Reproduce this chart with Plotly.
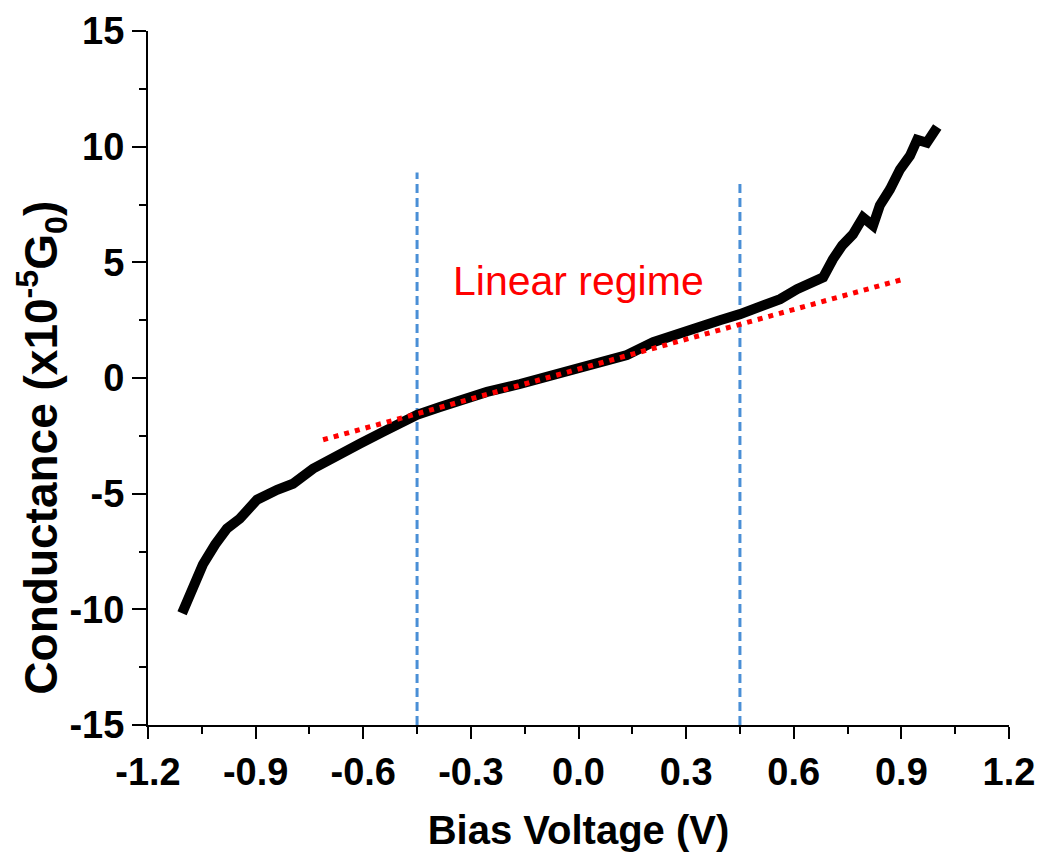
import plotly.graph_objects as go

# ---- data ----
bias_v = [-1.105, -1.091, -1.075, -1.047, -1.013, -0.980, -0.944, -0.896, -0.840,
          -0.796, -0.740, -0.684, -0.609, -0.545, -0.478, -0.450, -0.386, -0.330,
          -0.255, -0.163, -0.088, -0.015, 0.060, 0.135, 0.208, 0.302, 0.394, 0.450,
          0.506, 0.562, 0.609, 0.637, 0.682, 0.709, 0.735, 0.765, 0.793, 0.821,
          0.840, 0.868, 0.896, 0.924, 0.944, 0.971, 0.994, 1.000]
conductance = [-10.17, -9.66, -8.92, -8.06, -7.20, -6.51, -6.08, -5.26, -4.83,
               -4.57, -3.92, -3.41, -2.84, -2.33, -1.81, -1.59, -1.25, -0.95,
               -0.60, -0.26, 0.04, 0.39, 0.69, 0.99, 1.55, 2.07, 2.50, 2.76,
               3.06, 3.41, 3.84, 4.05, 4.35, 5.13, 5.73, 6.21, 6.94, 6.59,
               7.46, 8.15, 9.01, 9.61, 10.30, 10.17, 10.73, 10.85]

fit_x = [-0.712, 0.905]
fit_y = [-2.67, 4.27]

boundary_left_x = [-0.45, -0.45]
boundary_left_y = [-15, 8.88]
boundary_right_x = [0.45, 0.45]
boundary_right_y = [-15, 8.58]

label_text = "Linear regime"
label_x = 0.0
label_y = 4.2

x_tick_vals = [-1.2, -0.9, -0.6, -0.3, 0.0, 0.3, 0.6, 0.9, 1.2]
x_tick_text = ["-1.2", "-0.9", "-0.6", "-0.3", "0.0", "0.3", "0.6", "0.9", "1.2"]
y_tick_vals = [-15, -10, -5, 0, 5, 10, 15]
y_tick_text = ["-15", "-10", "-5", "0", "5", "10", "15"]

x_title = "Bias Voltage (V)"
y_title = "Conductance (x10<sup>-5</sup>G<sub>0</sub>)"

FONT = "Liberation Sans, Arial, sans-serif"

fig = go.Figure()

fig.add_trace(go.Scatter(x=boundary_left_x, y=boundary_left_y, mode="lines",
                         line=dict(color="#4a8fd6", width=3, dash="9px,5px"),
                         showlegend=False, hoverinfo="skip"))
fig.add_trace(go.Scatter(x=boundary_right_x, y=boundary_right_y, mode="lines",
                         line=dict(color="#4a8fd6", width=3, dash="9px,5px"),
                         showlegend=False, hoverinfo="skip"))
fig.add_trace(go.Scatter(x=bias_v, y=conductance, mode="lines",
                         line=dict(color="black", width=10),
                         showlegend=False))
fig.add_trace(go.Scatter(x=fit_x, y=fit_y, mode="lines",
                         line=dict(color="#ff0000", width=5, dash="5px,6px"),
                         showlegend=False, hoverinfo="skip"))

fig.add_annotation(x=label_x, y=label_y, text=label_text, showarrow=False,
                   font=dict(family=FONT, size=41, color="#ff0000"),
                   xanchor="center", yanchor="middle")

# y-axis title (placed as in the reference, slightly below the axis centre)
fig.add_annotation(xref="paper", yref="paper", x=-0.124, y=0.40,
                   text=y_title, textangle=-90, showarrow=False,
                   font=dict(family=FONT, size=46, color="black", weight="bold"),
                   xanchor="center", yanchor="middle")

fig.update_layout(
    width=1044, height=863,
    margin=dict(l=140, r=43, t=23, b=146),
    paper_bgcolor="white", plot_bgcolor="white",
    font=dict(family=FONT, color="black"),
)

fig.update_xaxes(
    range=[-1.2, 1.2], showgrid=False, zeroline=False, automargin=False,
    showline=True, linecolor="black", linewidth=2,
    ticks="outside", ticklen=12, tickwidth=2, tickcolor="black",
    tickvals=x_tick_vals, ticktext=x_tick_text, ticklabeloverflow="allow",
    tickfont=dict(family=FONT, size=38, color="black", weight="bold"),
    minor=dict(dtick=0.15, tick0=-1.2, ticks="outside", ticklen=7, tickwidth=2, tickcolor="black"),
    title=dict(text=x_title, standoff=24,
               font=dict(family=FONT, size=40, color="black", weight="bold")),
)
fig.update_yaxes(
    range=[-15, 15], showgrid=False, zeroline=False, automargin=False,
    showline=True, linecolor="black", linewidth=2,
    ticks="outside", ticklen=14, tickwidth=2, tickcolor="black",
    tickvals=y_tick_vals, ticktext=y_tick_text, ticklabeloverflow="allow",
    tickfont=dict(family=FONT, size=38, color="black", weight="bold"),
    minor=dict(dtick=2.5, tick0=-15, ticks="outside", ticklen=7, tickwidth=2, tickcolor="black"),
)

fig.write_html("out.html")
